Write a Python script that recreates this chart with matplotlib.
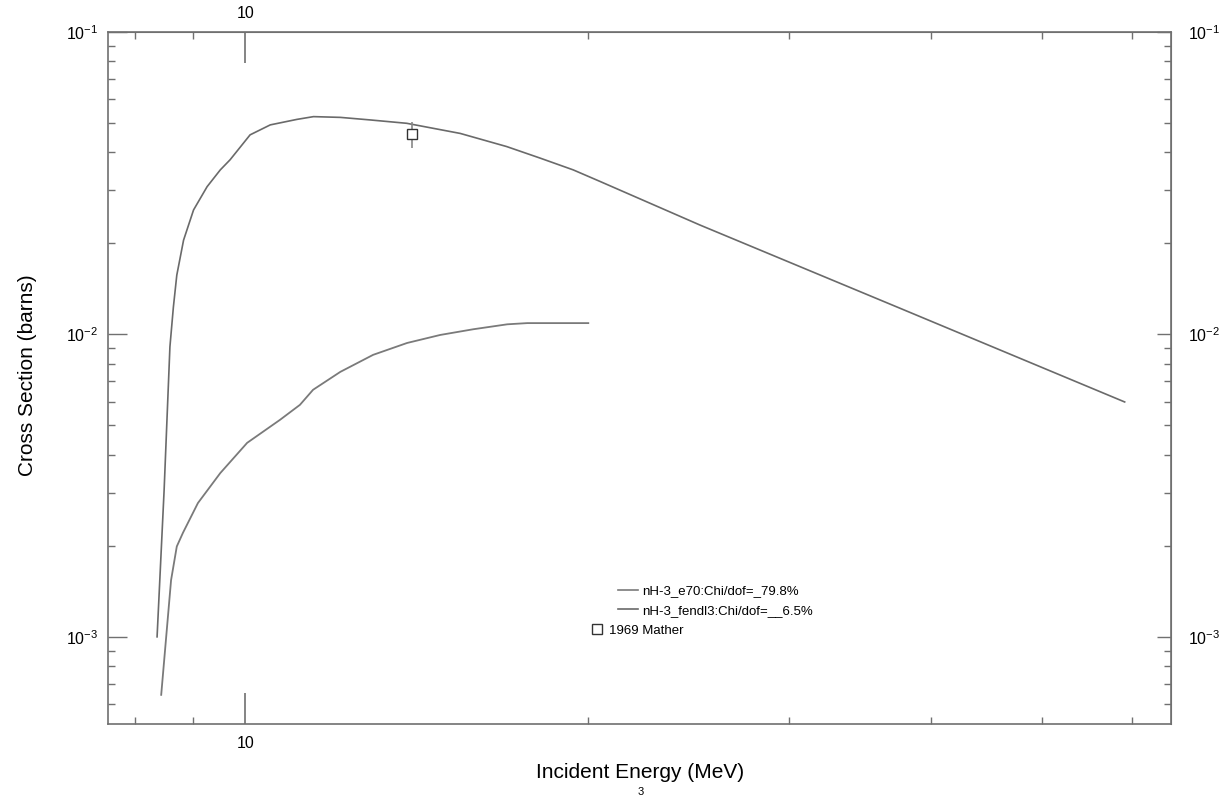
import numpy as np
import matplotlib.pyplot as plt
from matplotlib.ticker import FixedLocator, FuncFormatter, NullFormatter, LogLocator, LogFormatterSciNotation
from matplotlib.lines import Line2D

plt.rcParams['font.family'] = ['Liberation Sans', 'DejaVu Sans']
plt.rcParams['mathtext.default'] = 'regular'

# fendl3 evaluation (upper curve)
fendl3_e = [8.37, 8.49, 8.59, 8.65, 8.71, 8.83, 9.01, 9.26, 9.51, 9.70, 10.10, 10.52,
            11.10, 11.48, 12.12, 12.87, 13.86, 15.44, 16.96, 18.14, 19.40, 20.5,
            25.06, 37.55, 59.1]
fendl3_xs = [1.0e-3, 3.06e-3, 9.1e-3, 1.23e-2, 1.57e-2, 2.05e-2, 2.58e-2, 3.08e-2,
             3.50e-2, 3.78e-2, 4.57e-2, 4.93e-2, 5.14e-2, 5.25e-2, 5.22e-2, 5.12e-2,
             4.99e-2, 4.62e-2, 4.18e-2, 3.83e-2, 3.50e-2, 3.20e-2, 2.30e-2, 1.22e-2,
             5.98e-3]

# e70 evaluation (lower curve)
e70_e = [8.44, 8.61, 8.71, 8.82, 9.09, 9.51, 10.04, 10.73, 11.17, 11.47, 12.12,
         12.95, 13.87, 14.83, 15.85, 16.98, 17.68, 20.0]
e70_xs = [6.43e-4, 1.54e-3, 1.99e-3, 2.21e-3, 2.77e-3, 3.48e-3, 4.38e-3, 5.22e-3,
          5.85e-3, 6.56e-3, 7.52e-3, 8.56e-3, 9.37e-3, 9.96e-3, 1.04e-2, 1.08e-2,
          1.09e-2, 1.09e-2]

# experimental point
mather_e = [14.0]
mather_xs = [0.0459]
mather_err = [0.0046]

line_labels = ['nH-3_e70:Chi/dof=_79.8%', 'nH-3_fendl3:Chi/dof=__6.5%']
point_label = '1969 Mather'

axis_col = '#707070'
line_col = '#6a6a6a'

fig = plt.figure(figsize=(12.27, 7.98), dpi=100)
ax = fig.add_axes([108/1227, 1 - 724/798, 1063/1227, 692/798])

ax.plot(fendl3_e, fendl3_xs, color=line_col, lw=1.2)
ax.plot(e70_e, e70_xs, color='#7a7a7a', lw=1.3)
ax.errorbar(mather_e, mather_xs, yerr=mather_err, fmt='s', ms=7, mfc='white',
            mec='#333333', mew=1.0, ecolor='#888888', elinewidth=1.2, capsize=0)

ax.set_xscale('log')
ax.set_yscale('log')
ax.set_xlim(7.58, 64.9)
ax.set_ylim(5.15e-4, 0.1)

for s in ax.spines.values():
    s.set_color(axis_col)
    s.set_linewidth(1.2)

xfmt = FuncFormatter(lambda v, p: f'{v:g}')


def setup_x(axis):
    axis.set_major_locator(FixedLocator([10]))
    axis.set_minor_locator(FixedLocator([8, 9, 20, 30, 40, 50, 60]))
    axis.set_major_formatter(xfmt)
    axis.set_minor_formatter(NullFormatter())


def setup_y(axis):
    axis.set_major_locator(LogLocator(base=10, numticks=10))
    axis.set_minor_locator(LogLocator(base=10, subs=np.arange(2, 10), numticks=10))
    axis.set_major_formatter(LogFormatterSciNotation())
    axis.set_minor_formatter(NullFormatter())


setup_x(ax.xaxis)
setup_y(ax.yaxis)
ax.tick_params(axis='x', which='major', direction='in', length=22, width=1.2,
               color=axis_col, labelsize=11.5, pad=9)
ax.tick_params(axis='x', which='minor', direction='in', length=5, width=1.0, color=axis_col)
ax.tick_params(axis='y', which='major', direction='in', length=14, width=1.0,
               color=axis_col, labelsize=11.5, pad=7)
ax.tick_params(axis='y', which='minor', direction='in', length=5, width=1.0, color=axis_col)

secx = ax.secondary_xaxis('top')
setup_x(secx.xaxis)
secx.tick_params(axis='x', which='major', direction='in', length=22, width=1.2,
                 color=axis_col, labelsize=11.5, pad=8)
secx.tick_params(axis='x', which='minor', direction='in', length=5, width=1.0, color=axis_col)
secx.spines['top'].set_color(axis_col)

secy = ax.secondary_yaxis('right')
setup_y(secy.yaxis)
secy.tick_params(axis='y', which='major', direction='in', length=10, width=1.0,
                 color=axis_col, labelsize=11.5, pad=12)
secy.tick_params(axis='y', which='minor', direction='in', length=5, width=1.0, color=axis_col)
secy.spines['right'].set_color(axis_col)

fig.text(640/1227, 1 - 773/798, 'Incident Energy (MeV)', ha='center', va='center', fontsize=15)
fig.text(28/1227, 1 - 375/798, 'Cross Section (barns)', ha='center', va='center',
         rotation=90, fontsize=15)
fig.text(641/1227, 1 - 792/798, '3', ha='center', va='center', fontsize=8)

line_handles = [Line2D([], [], color='#7a7a7a', lw=1.2),
                Line2D([], [], color=line_col, lw=1.2)]
leg1 = ax.legend(line_handles, line_labels, loc='center left',
                 bbox_to_anchor=((618 - 108) / 1063, (724 - 601) / 692),
                 frameon=False, fontsize=9.5, handlelength=1.5, handletextpad=0.3,
                 labelspacing=0.55, borderaxespad=0, borderpad=0)
ax.add_artist(leg1)

point_handle = [Line2D([], [], ls='none', marker='s', ms=7, mfc='white', mec='#333333')]
ax.legend(point_handle, [point_label], loc='center left',
          bbox_to_anchor=((592 - 108) / 1063, (724 - 631) / 692),
          frameon=False, fontsize=9.5, handlelength=0.8, handletextpad=0.5,
          borderaxespad=0, borderpad=0)

fig.savefig('out.png', dpi=100)
